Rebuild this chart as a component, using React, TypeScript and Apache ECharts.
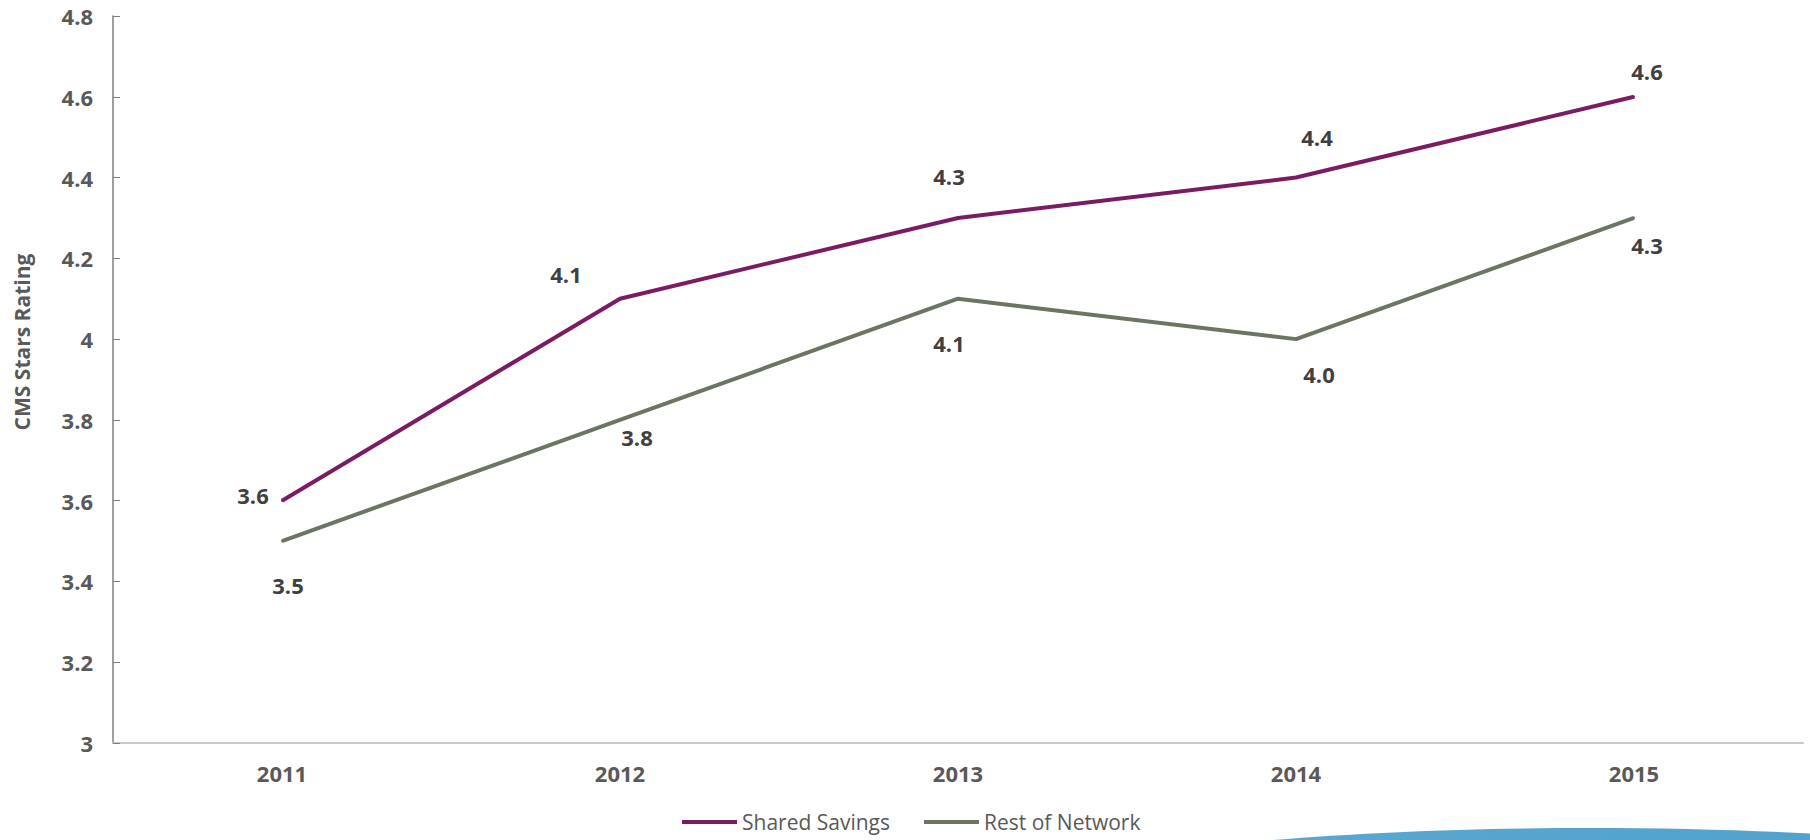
import React, { useEffect, useRef } from "react";
import * as echarts from "echarts";

const years = ["2011", "2012", "2013", "2014", "2015"];
const sharedSavings = [3.6, 4.1, 4.3, 4.4, 4.6];
const restOfNetwork = [3.5, 3.8, 4.1, 4.0, 4.3];
const seriesNames = ["Shared Savings", "Rest of Network"];
const yAxisTitle = "CMS Stars Rating";

// label offsets (layout only)
const ssOffsets = [[-29, -6], [-54, -25], [-9, -42], [21, -41], [13, -26]];
const rnOffsets = [[6, 44], [17, 17], [-9, 44], [23, 35], [13, 27]];

const FONT = "'Open Sans', 'Liberation Sans', sans-serif";

export default function App() {
  const ref = useRef<HTMLDivElement>(null);
  useEffect(() => {
    document.body.style.margin = "0";
    const chart = echarts.init(ref.current!, null, { renderer: "svg" });
    const labelStyle = {
      show: true,
      position: "inside",
      fontFamily: FONT,
      fontWeight: "bold",
      fontSize: 22,
      color: "#404040",
      formatter: (p: any) => Number(p.value).toFixed(1),
    };
    const mk = (vals: number[], offs: number[][]) =>
      vals.map((v, i) => ({ value: v, label: { offset: offs[i] } }));
    chart.setOption({
      animation: false,
      backgroundColor: "#ffffff",
      textStyle: { fontFamily: FONT },
      grid: { left: 113, right: 7, top: 16, bottom: 97, containLabel: false },
      legend: {
        left: 682,
        top: 809,
        padding: 0,
        itemWidth: 55,
        itemHeight: 4,
        itemGap: 34,
        icon: "rect",
        textStyle: { fontFamily: FONT, fontSize: 21, lineHeight: 26, color: "#595959" },
        data: seriesNames,
      },
      xAxis: {
        type: "category",
        data: years,
        boundaryGap: true,
        axisLine: { lineStyle: { color: "#c9c9c9", width: 2 } },
        axisTick: { inside: true, length: 7, lineStyle: { color: "#c9c9c9" } },
        axisLabel: {
          margin: 19,
          fontFamily: FONT,
          fontWeight: "bold",
          fontSize: 22,
          color: "#595959",
        },
        splitLine: { show: false },
      },
      yAxis: {
        type: "value",
        min: 3,
        max: 4.8,
        interval: 0.2,
        axisLine: { show: true, lineStyle: { color: "#7f7f7f", width: 1.5 } },
        axisTick: { show: true, inside: true, length: 7, lineStyle: { color: "#7f7f7f" } },
        axisLabel: {
          margin: 20,
          fontFamily: FONT,
          fontWeight: "bold",
          fontSize: 22,
          color: "#595959",
          formatter: (v: number) => String(Math.round(v * 10) / 10),
        },
        splitLine: { show: false },
      },
      graphic: [
        {
          type: "text",
          x: 22,
          y: 342,
          rotation: Math.PI / 2,
          style: {
            text: yAxisTitle,
            fontFamily: FONT,
            fontWeight: "bold",
            fontSize: 21,
            fill: "#595959",
            align: "center",
            verticalAlign: "middle",
          },
        },
        {
          type: "ellipse",
          shape: { cx: 1590, cy: 905, rx: 590, ry: 77 },
          style: {
            fill: new echarts.graphic.LinearGradient(0, 0, 1, 0, [
              { offset: 0, color: "rgba(74,159,204,0)" },
              { offset: 0.14, color: "rgba(74,159,204,0.9)" },
              { offset: 1, color: "#4a9fcc" },
            ]),
          },
          z: -1,
        },
      ],
      series: [
        {
          name: seriesNames[0],
          type: "line",
          data: mk(sharedSavings, ssOffsets),
          symbol: "circle",
          symbolSize: 2,
          lineStyle: { color: "#7b1c63", width: 4 },
          itemStyle: { color: "#7b1c63" },
          label: labelStyle,
        },
        {
          name: seriesNames[1],
          type: "line",
          data: mk(restOfNetwork, rnOffsets),
          symbol: "circle",
          symbolSize: 2,
          lineStyle: { color: "#6b7562", width: 4 },
          itemStyle: { color: "#6b7562" },
          label: labelStyle,
        },
      ],
    });
    return () => chart.dispose();
  }, []);
  return <div ref={ref} style={{ width: 1810, height: 840 }} />;
}
